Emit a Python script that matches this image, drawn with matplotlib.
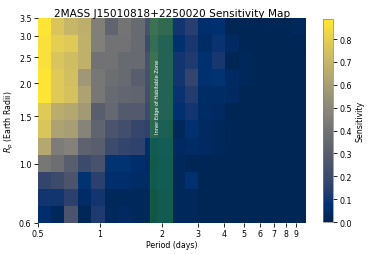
import numpy as np
import matplotlib
matplotlib.use("Agg")
import matplotlib.pyplot as plt
from matplotlib.ticker import NullLocator

# grid of the sensitivity map (log-spaced bins)
period_edges = np.logspace(np.log10(0.5), np.log10(10), 21)
radius_edges = np.logspace(np.log10(0.6), np.log10(3.5), 13)

# sensitivity, rows from Rp=0.6 (bottom) to Rp=3.5 (top), 20 period bins each
sens = [
    [0.06, 0.03, 0.25, 0.02, 0.12, 0.03, 0.04, 0.03, 0.03, 0.06, 0.03, 0.03, 0.02, 0.02, 0.02, 0.02, 0.02, 0.02, 0.02, 0.02],
    [0.10, 0.10, 0.15, 0.05, 0.10, 0.03, 0.03, 0.03, 0.03, 0.06, 0.03, 0.03, 0.02, 0.02, 0.02, 0.02, 0.02, 0.02, 0.02, 0.02],
    [0.17, 0.20, 0.25, 0.08, 0.15, 0.06, 0.06, 0.05, 0.05, 0.07, 0.03, 0.07, 0.02, 0.02, 0.02, 0.02, 0.02, 0.02, 0.02, 0.02],
    [0.42, 0.38, 0.30, 0.20, 0.24, 0.08, 0.08, 0.06, 0.04, 0.07, 0.03, 0.02, 0.02, 0.02, 0.02, 0.02, 0.02, 0.02, 0.02, 0.02],
    [0.64, 0.45, 0.47, 0.32, 0.30, 0.20, 0.17, 0.16, 0.06, 0.08, 0.04, 0.05, 0.04, 0.03, 0.02, 0.02, 0.02, 0.02, 0.02, 0.02],
    [0.76, 0.62, 0.60, 0.48, 0.33, 0.25, 0.22, 0.18, 0.16, 0.10, 0.03, 0.07, 0.04, 0.03, 0.02, 0.02, 0.02, 0.02, 0.02, 0.02],
    [0.78, 0.66, 0.64, 0.58, 0.30, 0.35, 0.28, 0.28, 0.20, 0.12, 0.07, 0.10, 0.05, 0.04, 0.02, 0.02, 0.02, 0.02, 0.02, 0.02],
    [0.88, 0.78, 0.75, 0.62, 0.42, 0.36, 0.34, 0.33, 0.22, 0.12, 0.09, 0.13, 0.05, 0.05, 0.04, 0.02, 0.02, 0.02, 0.02, 0.02],
    [0.88, 0.78, 0.74, 0.57, 0.42, 0.38, 0.36, 0.30, 0.23, 0.12, 0.10, 0.17, 0.07, 0.08, 0.04, 0.03, 0.02, 0.02, 0.02, 0.02],
    [0.86, 0.76, 0.73, 0.68, 0.40, 0.40, 0.36, 0.36, 0.24, 0.12, 0.10, 0.12, 0.07, 0.11, 0.02, 0.03, 0.02, 0.02, 0.02, 0.02],
    [0.86, 0.80, 0.78, 0.68, 0.46, 0.40, 0.40, 0.36, 0.20, 0.12, 0.07, 0.11, 0.05, 0.09, 0.04, 0.02, 0.02, 0.02, 0.02, 0.02],
    [0.88, 0.76, 0.70, 0.67, 0.46, 0.33, 0.41, 0.36, 0.24, 0.18, 0.10, 0.14, 0.06, 0.07, 0.02, 0.02, 0.02, 0.02, 0.02, 0.03],
]
sens_max = 0.887

# inner edge of habitable zone (days)
hz_inner = (1.75, 2.24)

xticks = [0.5, 1, 2, 3, 4, 5, 6, 7, 8, 9]
xticklabels = ["0.5", "1", "2", "3", "4", "5", "6", "7", "8", "9"]
yticks = [0.6, 1.0, 1.5, 2.0, 2.5, 3.0, 3.5]
yticklabels = ["0.6", "1.0", "1.5", "2.0", "2.5", "3.0", "3.5"]

fig = plt.figure(figsize=(3.82, 2.55), dpi=100)
ax = fig.add_axes([0.0987, 0.1216, 0.7013, 0.8039])
cax = fig.add_axes([0.845, 0.125, 0.028, 0.796])

mesh = ax.pcolormesh(period_edges, radius_edges, np.array(sens), cmap="cividis",
                     vmin=0, vmax=sens_max)
ax.axvspan(hz_inner[0], hz_inner[1], color="tab:green", alpha=0.4, lw=0.6)
ax.text(1.9, 1.3, "Inner Edge of Habitable Zone", rotation=90, color="white",
        fontsize=3.6, ha="center", va="bottom")

ax.set_xscale("log")
ax.set_yscale("log")
ax.set_xlim(0.5, 10)
ax.set_ylim(0.6, 3.5)
ax.xaxis.set_minor_locator(NullLocator())
ax.yaxis.set_minor_locator(NullLocator())
ax.set_xticks(xticks)
ax.set_xticklabels(xticklabels)
ax.set_yticks(yticks)
ax.set_yticklabels(yticklabels)
ax.tick_params(labelsize=5.7, length=3, width=0.6, pad=1.5)
for s in ax.spines.values():
    s.set_visible(False)

ax.set_xlabel("Period (days)", fontsize=5.7, labelpad=1.5)
ax.set_ylabel("$R_p$ (Earth Radii)", fontsize=5.7, labelpad=2)
ax.set_title("2MASS J15010818+2250020 Sensitivity Map", fontsize=7.6, pad=1.5)

cb = fig.colorbar(mesh, cax=cax)
cb.set_label("Sensitivity", fontsize=5.7, labelpad=2)
cb.ax.tick_params(labelsize=5.7, length=3, width=0.6, pad=1.5)
cb.outline.set_linewidth(0.5)
cb.outline.set_edgecolor("0.5")

fig.savefig("out.png", dpi=100)
